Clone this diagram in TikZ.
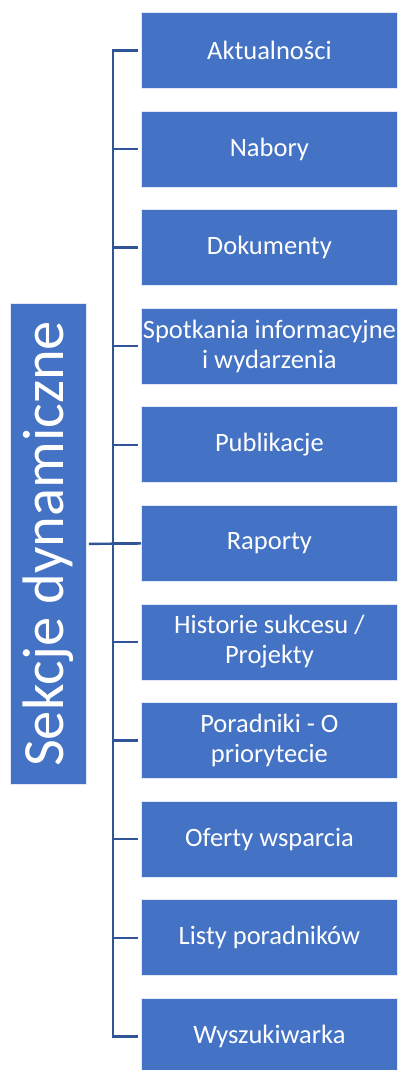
\documentclass[tikz,border=0pt]{standalone}
\usepackage{fontspec}
\setmainfont{Carlito}
\definecolor{boxblue}{HTML}{4472C4}
\definecolor{linkblue}{HTML}{2F5597}
\begin{document}
\begin{tikzpicture}[x=1pt,y=-1pt,
  item/.style={fill=boxblue, draw=white!85!boxblue, line width=0.8pt, minimum width=256pt, minimum height=76pt, inner sep=0pt, text=white, align=center, font=\fontsize{26.5}{30}\selectfont, anchor=north west},
  link/.style={draw=linkblue, line width=2.4pt}]
\useasboundingbox (0,0) rectangle (398,1070);
\begin{scope}
\clip (0,0) rectangle (398,1070);
\node[item] (b1) at (141,12) {Aktualności};
\node[item] (b2) at (141,110.6) {Nabory};
\node[item] (b3) at (141,209.2) {Dokumenty};
\node[item] (b4) at (141,307.8) {Spotkania informacyjne\\i wydarzenia};
\node[item] (b5) at (141,406.4) {Publikacje};
\node[item] (b6) at (141,505) {Raporty};
\node[item] (b7) at (141,603.6) {Historie sukcesu /\\Projekty};
\node[item] (b8) at (141,702.2) {Poradniki - O\\priorytecie};
\node[item] (b9) at (141,800.8) {Oferty wsparcia};
\node[item] (b10) at (141,899.4) {Listy poradników};
\node[item] (b11) at (141,998) {Wyszukiwarka};
\end{scope}
\node[fill=boxblue, draw=white!85!boxblue, line width=0.8pt, minimum width=76pt, minimum height=481pt, inner sep=0pt, anchor=north west] (root) at (10,303) {};
\node[rotate=90, text=white, font=\fontsize{58.5}{60}\selectfont, inner sep=0pt] (rt) at (root.center) {Sekcje dynamiczne};
\draw[link] (root.east) ++(2,0) -- (b6.west);
\draw[link, line join=miter] (b1.west) ++(-3,0) -| (113,0 |- b11.west) -- ++(25,0);
\foreach \i in {2,...,10} {
  \draw[link] (113,0 |- b\i.west) -- ([xshift=-3pt]b\i.west);
}
\end{tikzpicture}
\end{document}
